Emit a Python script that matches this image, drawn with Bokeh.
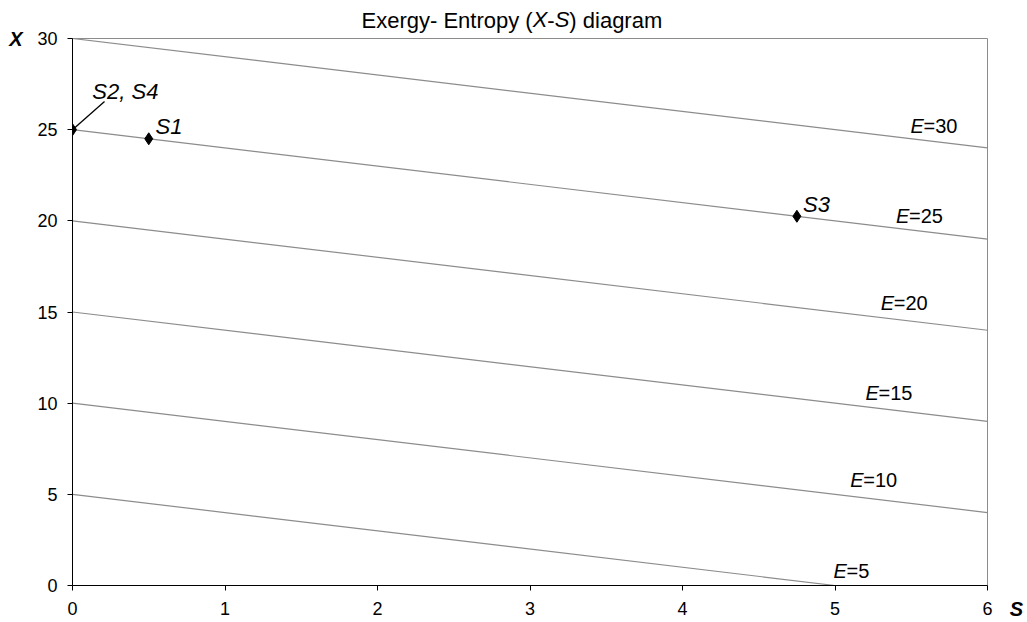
from bokeh.plotting import figure
from bokeh.models import Range1d, FixedTicker, ColumnDataSource, LinearAxis
from bokeh.layouts import row
from bokeh.embed import file_html
from bokeh.resources import INLINE
from bokeh.core.properties import value

# Iso-exergy lines (E = const), given by their end points in the S-X plane
e_values = [5, 10, 15, 20, 25, 30]
line_s0 = [0, 0, 0, 0, 0, 0]
line_x0 = [5, 10, 15, 20, 25, 30]
line_s1 = [5, 6, 6, 6, 6, 6]
line_x1 = [0, 4, 9, 14, 19, 24]

# E-label anchor positions (S, X)
label_s = [4.99, 5.10, 5.20, 5.30, 5.40, 5.495]
label_x = [0.82, 5.76, 10.58, 15.52, 20.29, 25.20]

# States
state_names = ["S2, S4", "S1", "S3"]
state_s = [0.0, 0.5, 4.75]
state_x = [25.0, 24.5, 20.25]

x_ticks = [0, 1, 2, 3, 4, 5, 6]
y_ticks = [0, 5, 10, 15, 20, 25, 30]

# Title pieces: upright and italic parts
title_upright = ["Exergy- Entropy (", "-", ") diagram"]
title_italic = ["X", "S"]
x_axis_title = "S"
y_axis_title = "X"

FONT = "Liberation Sans"
GREY = "#8c8c8c"

p = figure(width=999, height=622, output_backend="svg", toolbar_location=None,
           x_range=Range1d(0, 6), y_range=Range1d(0, 30),
           min_border_left=72, min_border_top=38, min_border_right=12,
           min_border_bottom=37)
p.background_fill_color = "white"
p.border_fill_color = "white"
p.outline_line_color = GREY
p.outline_line_width = 1
p.xgrid.visible = False
p.ygrid.visible = False

for ax in (p.xaxis[0], p.yaxis[0]):
    ax.axis_line_color = "black"
    ax.major_tick_line_color = "black"
    ax.minor_tick_line_color = None
    ax.major_tick_in = 0
    ax.major_tick_out = 5
    ax.major_label_text_font = FONT
    ax.major_label_text_font_size = "18px"
    ax.major_label_text_color = "black"
p.xaxis[0].ticker = FixedTicker(ticks=x_ticks)
p.yaxis[0].ticker = FixedTicker(ticks=y_ticks)
p.xaxis[0].major_label_standoff = 11
p.yaxis[0].major_label_standoff = 10

# Second left axis that only carries the bold italic "X" next to the top tick
ax_x = LinearAxis(ticker=FixedTicker(ticks=[30]), major_label_overrides={30: y_axis_title},
                  axis_line_color=None, major_tick_line_color=None,
                  minor_tick_line_color=None, major_tick_in=0, major_tick_out=0,
                  major_label_standoff=12, major_label_text_font=FONT,
                  major_label_text_font_size="20px",
                  major_label_text_font_style="bold italic",
                  major_label_text_color="black")
p.add_layout(ax_x, "left")

# Title built from two label-only axes above the frame (pixel range over the frame)
p.extra_x_ranges = {"px": Range1d(72, 987)}
up_centers = [446.6, 550.5, 615.3]
it_centers = [539.6, 561.6]
ax_t1 = LinearAxis(x_range_name="px", ticker=FixedTicker(ticks=up_centers),
                   major_label_overrides=dict(zip(up_centers, title_upright)),
                   axis_line_color=None, major_tick_line_color=None,
                   minor_tick_line_color=None, major_tick_in=0, major_tick_out=0,
                   major_label_standoff=6, major_label_text_font=FONT,
                   major_label_text_font_size="22px", major_label_text_color="black")
ax_t2 = LinearAxis(x_range_name="px", ticker=FixedTicker(ticks=it_centers),
                   major_label_overrides=dict(zip(it_centers, title_italic)),
                   axis_line_color=None, major_tick_line_color=None,
                   minor_tick_line_color=None, major_tick_in=0, major_tick_out=0,
                   major_label_standoff=-27, major_label_text_font=FONT,
                   major_label_text_font_size="22px", major_label_text_font_style="italic",
                   major_label_text_color="black")
p.add_layout(ax_t1, "above")
p.add_layout(ax_t2, "above")

# Iso-E lines
p.segment(x0=line_s0, y0=line_x0, x1=line_s1, y1=line_x1, line_color=GREY, line_width=1.2)

# E labels: italic "E" then "=nn"
src_lab = ColumnDataSource(dict(s=label_s, x=label_x, e=["E"] * len(e_values),
                                rest=["=%d" % v for v in e_values]))
p.text(x="s", y="x", text="e", source=src_lab, text_font=value(FONT),
       text_font_style="italic", text_font_size="20px", text_baseline="middle",
       text_align="left", text_color="black")
p.text(x="s", y="x", text="rest", source=src_lab, text_font=value(FONT),
       text_font_size="20px", text_baseline="middle", text_align="left",
       text_color="black", x_offset=13)

# States
p.scatter(x=state_s, y=state_x, marker="diamond", size=12, fill_color="black",
          line_color="black")

# Leader line for S2, S4
p.segment(x0=[state_s[0]], y0=[state_x[0]], x1=[0.21], y1=[26.55], line_color="black",
          line_width=1.3)

state_label_s = [0.13, 0.545, 4.79]
state_label_x = [27.12, 25.15, 20.87]
p.text(x=state_label_s, y=state_label_x, text=state_names, text_font=value(FONT),
       text_font_style="italic", text_font_size="22px", text_baseline="middle",
       text_align="left", text_color="black")

# Narrow strip on the right carrying the bold italic "S" axis title
ps = figure(width=25, height=622, output_backend="svg", toolbar_location=None,
            x_range=Range1d(0, 25), y_range=Range1d(0, 1),
            min_border=0, min_border_bottom=37, y_axis_location=None)
ps.outline_line_color = None
ps.background_fill_color = "white"
ps.border_fill_color = "white"
ps.xgrid.visible = False
ps.ygrid.visible = False
sx = ps.xaxis[0]
sx.ticker = FixedTicker(ticks=[17])
sx.major_label_overrides = {17: x_axis_title}
sx.axis_line_color = None
sx.major_tick_line_color = None
sx.minor_tick_line_color = None
sx.major_tick_in = 0
sx.major_tick_out = 0
sx.major_label_standoff = 12
sx.major_label_text_font = FONT
sx.major_label_text_font_size = "20px"
sx.major_label_text_font_style = "bold italic"
sx.major_label_text_color = "black"

layout = row(p, ps, spacing=0)
open("out.html", "w").write(file_html(layout, INLINE))
